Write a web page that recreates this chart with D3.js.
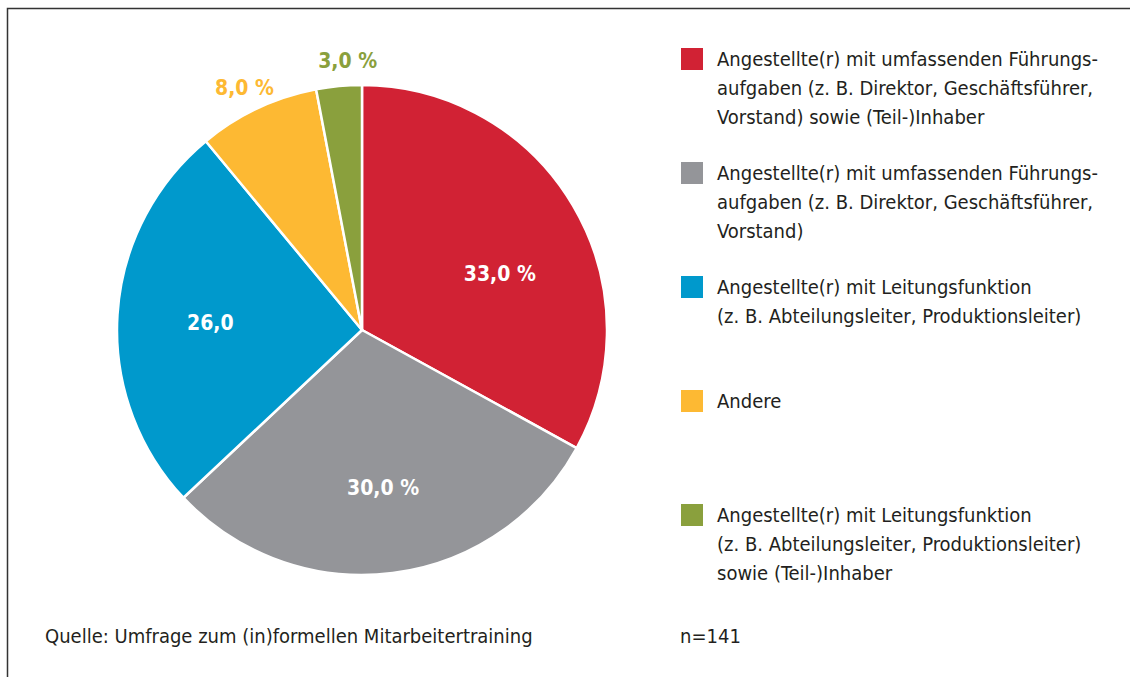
<!DOCTYPE html>
<html>
<head>
<meta charset="utf-8">
<script src="https://cdn.jsdelivr.net/npm/d3@7"></script>
<style>
  html, body { margin: 0; padding: 0; background: #fff; }
  svg { display: block; }
  text { font-family: "Liberation Sans Narrow", "DejaVu Sans Condensed", "Open Sans", sans-serif; }
</style>
</head>
<body>
<svg id="chart" width="1132" height="677"></svg>
<script>
const categories = [
  "Angestellte(r) mit umfassenden Führungs-|aufgaben (z. B. Direktor, Geschäftsführer,|Vorstand) sowie (Teil-)Inhaber",
  "Angestellte(r) mit umfassenden Führungs-|aufgaben (z. B. Direktor, Geschäftsführer,|Vorstand)",
  "Angestellte(r) mit Leitungsfunktion|(z. B. Abteilungsleiter, Produktionsleiter)",
  "Andere",
  "Angestellte(r) mit Leitungsfunktion|(z. B. Abteilungsleiter, Produktionsleiter)|sowie (Teil-)Inhaber"
];
const values = [33, 30, 26, 8, 3];
const valueLabels = ["33,0 %", "30,0 %", "26,0", "8,0 %", "3,0 %"];
const colors = ["#D12234", "#949599", "#0099CC", "#FDB933", "#8AA03D"];
const sourceText = "Quelle: Umfrage zum (in)formellen Mitarbeitertraining";
const nText = "n=141";

// layout-only nudges for the value labels (px)
const labelNudge = [[7, 21], [2, 7], [0, 2], [-3, 1], [11, -2]];

const svg = d3.select("#chart");

// frame (top and left edges)
svg.append("path")
  .attr("d", "M7.5,677 V8.5 H1130")
  .attr("fill", "none").attr("stroke", "#333").attr("stroke-width", 1.5);

const cx = 362, cy = 330, R = 245;
const pie = d3.pie().sort(null).value(d => d)(values);
const arc = d3.arc().innerRadius(0).outerRadius(R);

const g = svg.append("g").attr("transform", `translate(${cx},${cy})`);
g.selectAll("path").data(pie).join("path")
  .attr("d", arc)
  .attr("fill", (d, i) => colors[i])
  .attr("stroke", "#fff").attr("stroke-width", 2.5).attr("stroke-linejoin", "round");

const inner = d3.arc().innerRadius(152).outerRadius(152);
const outer = d3.arc().innerRadius(269).outerRadius(269);
g.selectAll("text.val").data(pie).join("text")
  .attr("class", "val")
  .attr("transform", (d, i) => {
    const p = (i < 3 ? inner : outer).centroid(d);
    return `translate(${p[0] + labelNudge[i][0]},${p[1] + labelNudge[i][1]})`;
  })
  .attr("text-anchor", "middle")
  .attr("dy", "0.36em")
  .attr("font-size", 21).attr("font-weight", "bold")
  .attr("fill", (d, i) => i < 3 ? "#fff" : colors[i])
  .text((d, i) => valueLabels[i]);

// legend
const legendTops = [48, 162, 276, 390, 504];
const lg = svg.append("g");
categories.forEach((c, i) => {
  const y0 = legendTops[i];
  lg.append("rect").attr("x", 681).attr("y", y0).attr("width", 22).attr("height", 22).attr("fill", colors[i]);
  const lines = c.split("|");
  const t = lg.append("text").attr("x", 717).attr("y", y0 + 18)
    .attr("font-size", 20).attr("fill", "#231F20");
  lines.forEach((l, j) => {
    t.append("tspan").attr("x", 717).attr("dy", j === 0 ? 0 : 29).text(l);
  });
});

svg.append("text").attr("x", 45).attr("y", 643).attr("font-size", 20).attr("fill", "#231F20").text(sourceText);
svg.append("text").attr("x", 680).attr("y", 643).attr("font-size", 20).attr("fill", "#231F20").text(nText);
</script>
</body>
</html>
